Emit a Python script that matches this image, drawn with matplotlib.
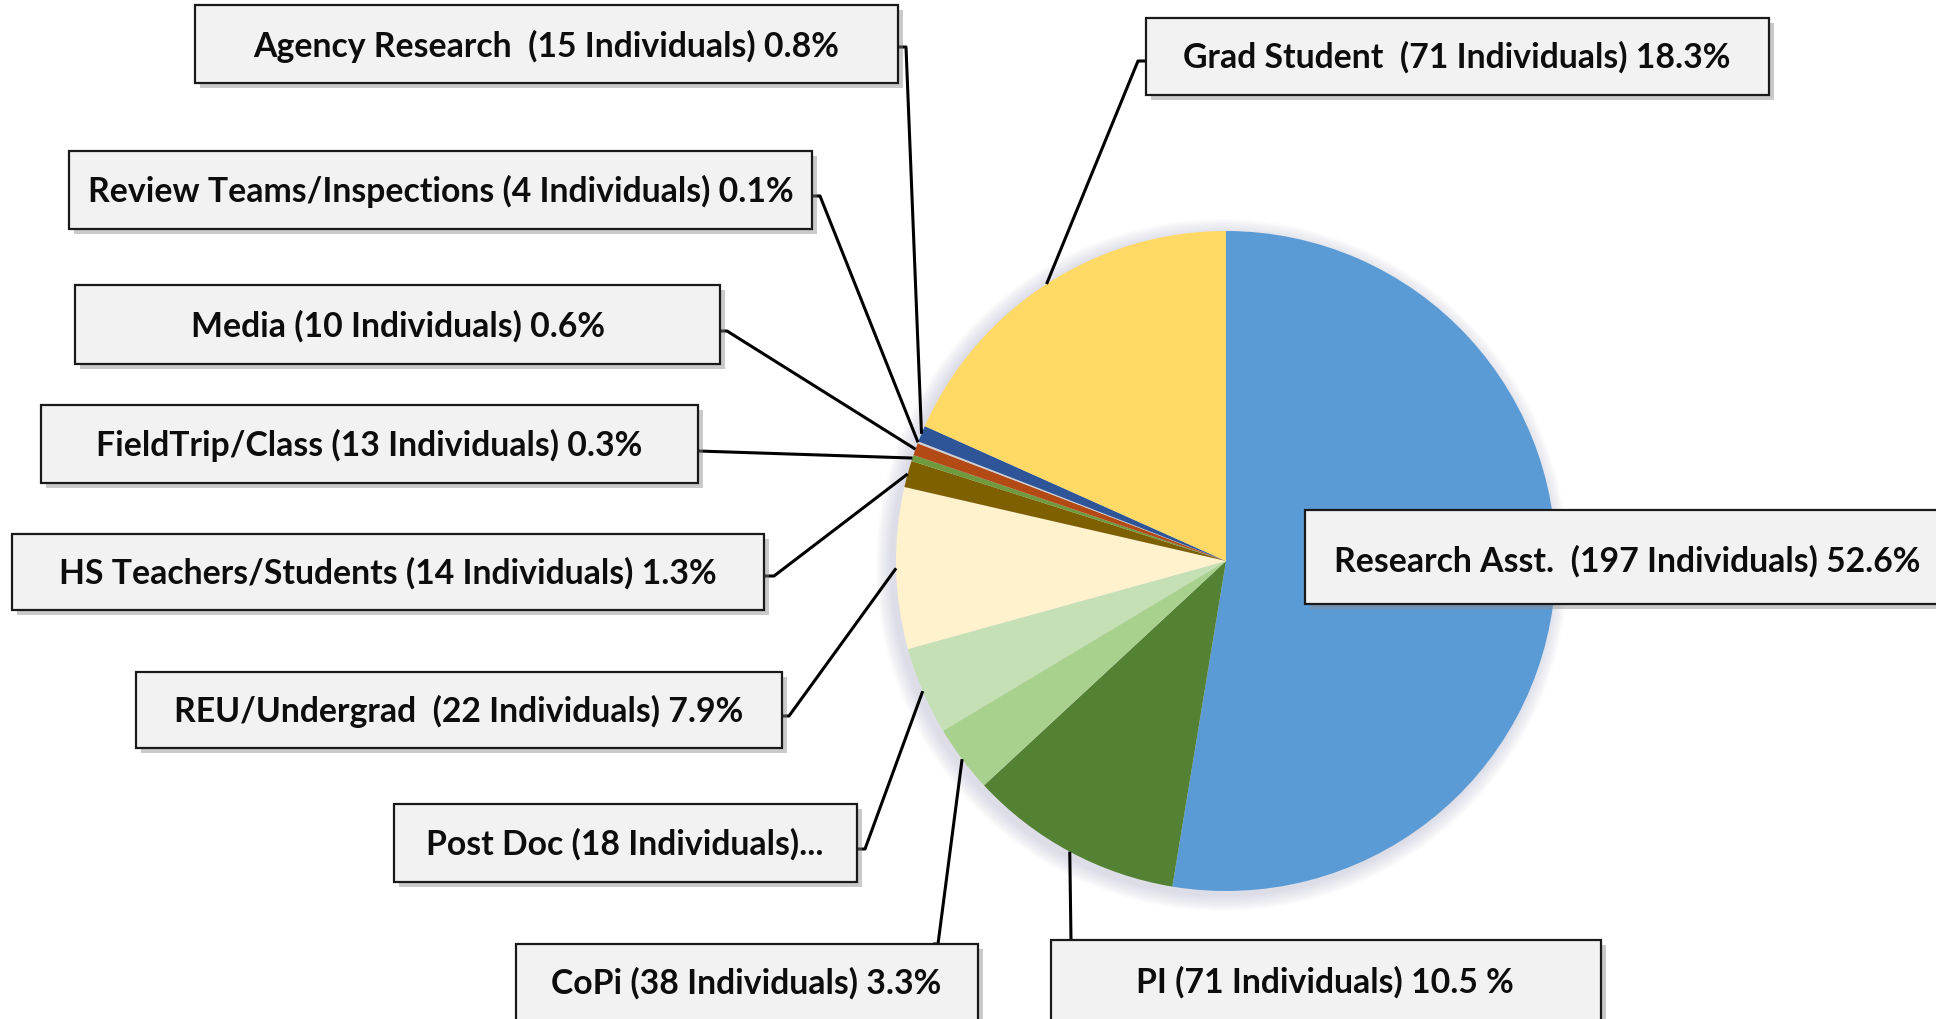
import numpy as np
import matplotlib.pyplot as plt
from matplotlib.patches import Rectangle, Circle

plt.rcParams['font.family'] = ['Lato', 'DejaVu Sans']

# slices, clockwise from 12 o'clock
categories = ['Research Asst.', 'PI', 'CoPi', 'Post Doc', 'REU/Undergrad',
              'HS Teachers/Students', 'FieldTrip/Class', 'Media',
              'Review Teams/Inspections', 'Agency Research', 'Grad Student']
individuals = [197, 71, 38, 18, 22, 14, 13, 10, 4, 15, 71]
percents = [52.6, 10.5, 3.3, 4.3, 7.9, 1.3, 0.3, 0.6, 0.1, 0.8, 18.3]
label_texts = [
    'Research Asst.  (197 Individuals) 52.6%',
    'PI (71 Individuals) 10.5 %',
    'CoPi (38 Individuals) 3.3%',
    'Post Doc (18 Individuals)...',
    'REU/Undergrad  (22 Individuals) 7.9%',
    'HS Teachers/Students (14 Individuals) 1.3%',
    'FieldTrip/Class (13 Individuals) 0.3%',
    'Media (10 Individuals) 0.6%',
    'Review Teams/Inspections (4 Individuals) 0.1%',
    'Agency Research  (15 Individuals) 0.8%',
    'Grad Student  (71 Individuals) 18.3%',
]
colors = ['#5b9bd5', '#548235', '#a9d18e', '#c5e0b4', '#fff2cc', '#7f6000',
          '#6f9a3e', '#b34a16', '#d0d0d0', '#2e5597', '#ffd966']

W, H = 1936, 1020
CX, CY, R = 1226, 562, 330   # pie centre / radius in pixels (from top)


def py(y):
    return H - y


# label boxes (x0, y0, x1, y1) in pixels from top-left, leader start points
boxes = [
    (1305, 511, 1945, 605),
    (1051, 941, 1601, 1025),
    (516, 945, 978, 1030),
    (394, 805, 857, 883),
    (136, 673, 782, 749),
    (12, 535, 764, 611),
    (41, 406, 698, 484),
    (75, 286, 720, 365),
    (69, 152, 812, 230),
    (195, 6, 898, 84),
    (1146, 19, 1769, 96),
]
text_pos = [(1627, 561), (1325, 982), (746, 983), (625, 844), (459, 711),
            (388, 573), (369, 445), (398, 326), (441, 191), (546, 46),
            (1457, 57)]
leader_start = [
    None,
    [(1071, 941)],
    [(933, 945), (938, 945)],
    [(857, 850), (865, 850)],
    [(782, 717), (789, 717)],
    [(764, 577), (774, 577)],
    [(698, 452)],
    [(720, 332), (727, 332)],
    [(812, 197), (820, 197)],
    [(898, 48), (906, 48)],
    [(1146, 62), (1138, 62)],
]

fig = plt.figure(figsize=(W / 100, H / 100), dpi=100)
ax = fig.add_axes([0, 0, 1, 1])

# soft glow around the pie (stronger to the lower left)
for k in range(10, 0, -1):
    ax.add_patch(Circle((CX - 4, py(CY + 4)), R + k * 1.6, color='#9c9cc0',
                        alpha=0.035, lw=0, zorder=1))

wedges, _ = ax.pie(percents, colors=colors, startangle=90, counterclock=False,
                   radius=R, center=(CX, py(CY)),
                   wedgeprops=dict(linewidth=0, zorder=2))

# leader lines
for w, start in zip(wedges, leader_start):
    if start is None:
        continue
    mid = np.deg2rad((w.theta1 + w.theta2) / 2)
    ex = CX + R * np.cos(mid)
    ey = py(CY) + R * np.sin(mid)
    xs = [p[0] for p in start] + [ex]
    ys = [py(p[1]) for p in start] + [ey]
    ax.plot(xs, ys, color='black', lw=2.2, zorder=3, solid_capstyle='butt')

# label boxes
for (x0, y0, x1, y1), (tx, ty), txt in zip(boxes, text_pos, label_texts):
    ax.add_patch(Rectangle((x0 + 5, py(y1) - 5), x1 - x0, y1 - y0,
                           facecolor='#8a8a8a', alpha=0.45, lw=0, zorder=4))
    ax.add_patch(Rectangle((x0, py(y1)), x1 - x0, y1 - y0,
                           facecolor='#f2f2f2', edgecolor='#1a1a1a', lw=1.6,
                           zorder=5))
    ax.text(tx, py(ty), txt, ha='center', va='center', fontsize=24.3,
            fontweight='bold', color='#0d0d0d', zorder=6)

ax.set_xlim(0, W)
ax.set_ylim(0, H)
ax.set_aspect('auto')
ax.axis('off')

fig.savefig('out.png', dpi=100, facecolor='white')
